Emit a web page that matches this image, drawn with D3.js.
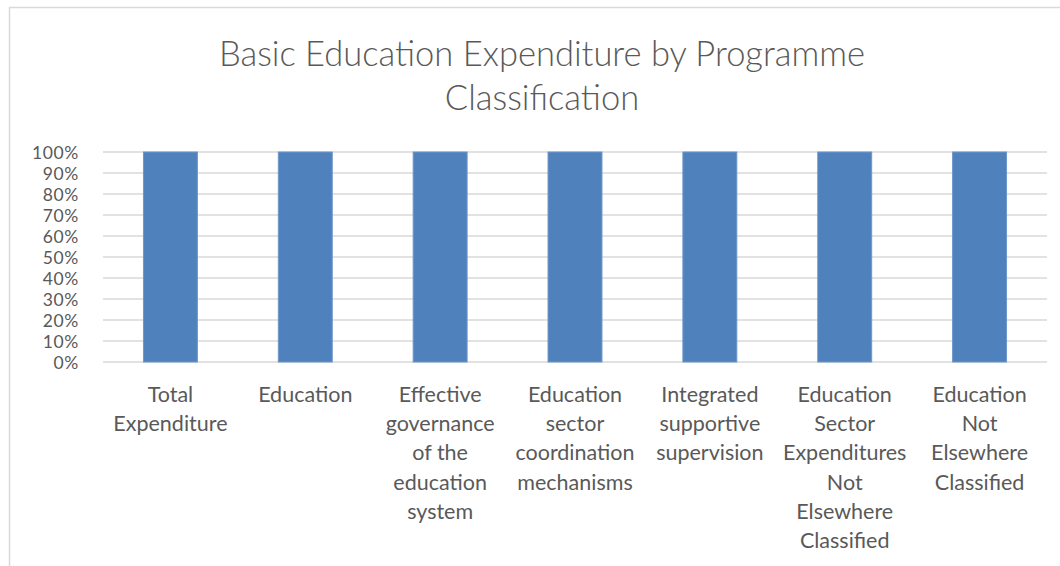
<!DOCTYPE html>
<html>
<head>
<meta charset="utf-8">
<script src="https://d3js.org/d3.v7.min.js"></script>
<style>
  body { margin: 0; background: #fff; }
  text { font-family: Lato, "Open Sans", sans-serif; fill: #595959; }
</style>
</head>
<body>
<svg id="chart" width="1060" height="566"></svg>
<script>
// chart data
var categories = ['Total Expenditure', 'Education', 'Effective governance of the education system',
  'Education sector coordination mechanisms', 'Integrated supportive supervision',
  'Education Sector Expenditures Not Elsewhere Classified', 'Education Not Elsewhere Classified']
var shares = [1, 1, 1, 1, 1, 1, 1]
var yTicks = [0, 0.1, 0.2, 0.3, 0.4, 0.5, 0.6, 0.7, 0.8, 0.9, 1]
var titleLines = ['Basic Education Expenditure by Programme', 'Classification']

var margin = { top: 152, left: 103, right: 13 }
var plotW = 1060 - margin.left - margin.right
var plotH = 210

var svg = d3.select('#chart')

// chart border
svg.append('path')
  .attr('d', 'M9.5,600 V7.5 H1070')
  .attr('fill', 'none')
  .attr('stroke', '#d9d9d9')
  .attr('stroke-width', 1.5)

// title
svg.append('g').selectAll('text')
  .data(titleLines)
  .enter()
  .append('text')
  .attr('x', 542)
  .attr('y', (d, i) => 66 + i * 44)
  .attr('text-anchor', 'middle')
  .style('font-size', '34.5px')
  .style('font-weight', 300)
  .text(d => d)

var g = svg.append('g')
  .attr('transform', 'translate(' + margin.left + ',' + margin.top + ')')

var x = d3.scaleBand()
  .domain(categories)
  .range([0, plotW])
  .paddingInner(0.6)
  .paddingOuter(0.3)

var y = d3.scaleLinear()
  .domain([0, 1])
  .range([plotH, 0])

// gridlines
g.append('g')
  .selectAll('line')
  .data(yTicks)
  .enter()
  .append('line')
  .attr('x1', 0)
  .attr('x2', plotW)
  .attr('y1', d => y(d))
  .attr('y2', d => y(d))
  .attr('stroke', '#d9d9d9')
  .attr('stroke-width', 1.3)

// y axis
var yAxis = g.append('g')
  .attr('transform', 'translate(-24,0)')
  .call(d3.axisLeft(y).tickValues(yTicks).tickFormat(d3.format('.0%')).tickSize(0).tickPadding(0))
yAxis.select('.domain').remove()
yAxis.selectAll('text')
  .style('font-size', '17.5px')
  .style('letter-spacing', '0.6px')
  .style('font-family', 'Lato, "Open Sans", sans-serif')
  .attr('fill', '#595959')
  .attr('dy', '0.36em')

// bars
g.selectAll('.bar')
  .data(shares)
  .enter()
  .append('rect')
  .attr('class', 'bar')
  .attr('x', (d, i) => x(categories[i]))
  .attr('y', d => y(d))
  .attr('width', x.bandwidth())
  .attr('height', d => plotH - y(d))
  .attr('fill', '#4f81bd')
  .attr('stroke', '#6f97c9')
  .attr('stroke-width', 1)

// category labels, wrapped
var labels = g.append('g')
  .attr('transform', 'translate(0,' + plotH + ')')
  .selectAll('text')
  .data(categories)
  .enter()
  .append('text')
  .attr('x', d => x(d) + x.bandwidth() / 2)
  .attr('y', 40)
  .attr('text-anchor', 'middle')
  .style('font-size', '21.5px')

labels.each(function(d) {
  var el = d3.select(this)
  var words = d.split(' ')
  var line = []
  var lines = []
  var tmp = el.append('tspan')
  words.forEach(w => {
    line.push(w)
    tmp.text(line.join(' '))
    if (tmp.node().getComputedTextLength() > 131 && line.length > 1) {
      line.pop()
      lines.push(line.join(' '))
      line = [w]
    }
  })
  lines.push(line.join(' '))
  tmp.remove()
  lines.forEach((l, i) => {
    el.append('tspan')
      .attr('x', x(d) + x.bandwidth() / 2)
      .attr('dy', i === 0 ? 0 : 29.2)
      .text(l)
  })
})
</script>
</body>
</html>
